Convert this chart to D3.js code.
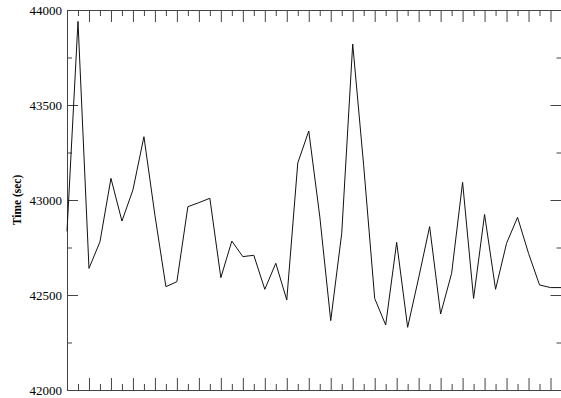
<!DOCTYPE html>
<html>
<head>
<meta charset="utf-8">
<script src="https://cdn.jsdelivr.net/npm/d3@7"></script>
<style>
  body { margin: 0; background: #fff; }
  svg { display: block; }
  .tick text { font-family: "Liberation Serif", "Times New Roman", serif; font-size: 13px; fill: #000; }
</style>
</head>
<body>
<script>
// sample index along x (no labels drawn on the x axis)
const sampleIndex = d3.range(0, 46);

// time in seconds
const timeSec = [
  42835, 43940, 42640, 42780, 43114, 42889, 43053, 43333, 42920, 42544,
  42570, 42965, 42986, 43009, 42591, 42784, 42702, 42709, 42530, 42667,
  42474, 43195, 43363, 42915, 42365, 42825, 43821, 43180, 42482, 42342,
  42777, 42330, 42590, 42860, 42400, 42614, 43093, 42482, 42924, 42530,
  42772, 42909, 42719, 42553, 42539, 42539
];

const yMajorTicks = [42000, 42500, 43000, 43500, 44000];
const yMinorTicks = [42250, 42750, 43250, 43750];
const xMajorTicks = d3.range(0, 46, 2);
const xMinorTicks = d3.range(1, 46, 2);

const W = 561, H = 398;
const margin = { top: 10, right: 0, bottom: 8, left: 67 };
const width = 494.5;
const height = H - margin.top - margin.bottom;

const svg = d3
  .select("body")
  .append("svg")
  .attr("width", W)
  .attr("height", H);

svg.append("rect").attr("width", W).attr("height", H).attr("fill", "white");

const g = svg
  .append("g")
  .attr("transform", `translate(${margin.left},${margin.top})`);

const xScale = d3.scaleLinear().domain([0, 45]).range([0, width]);
const yScale = d3.scaleLinear().domain([42000, 44000]).range([height, 0]);

const axisColor = "#444";

// ticks point inward on all four sides
const styleAxis = (sel) => {
  sel.select(".domain").attr("stroke", axisColor);
  sel.selectAll(".tick line").attr("stroke", axisColor);
};

// left axis, the only one with labels
g.append("g")
  .call(d3.axisLeft(yScale).tickValues(yMajorTicks).tickFormat(d3.format("d")).tickSize(-11).tickPadding(5).tickSizeOuter(0))
  .call(styleAxis);
g.append("g")
  .call(d3.axisLeft(yScale).tickValues(yMinorTicks).tickSize(-5).tickFormat("").tickSizeOuter(0))
  .call(styleAxis);

// right axis
g.append("g")
  .attr("transform", `translate(${width},0)`)
  .call(d3.axisRight(yScale).tickValues(yMajorTicks).tickSize(-11).tickFormat("").tickSizeOuter(0))
  .call(styleAxis);
g.append("g")
  .attr("transform", `translate(${width},0)`)
  .call(d3.axisRight(yScale).tickValues(yMinorTicks).tickSize(-5).tickFormat("").tickSizeOuter(0))
  .call(styleAxis);

// bottom axis
g.append("g")
  .attr("transform", `translate(0,${height})`)
  .call(d3.axisBottom(xScale).tickValues(xMajorTicks).tickSize(-12).tickFormat("").tickSizeOuter(0))
  .call(styleAxis);
g.append("g")
  .attr("transform", `translate(0,${height})`)
  .call(d3.axisBottom(xScale).tickValues(xMinorTicks).tickSize(-6).tickFormat("").tickSizeOuter(0))
  .call(styleAxis);

// top axis
g.append("g")
  .call(d3.axisTop(xScale).tickValues(xMajorTicks).tickSize(-12).tickFormat("").tickSizeOuter(0))
  .call(styleAxis);
g.append("g")
  .call(d3.axisTop(xScale).tickValues(xMinorTicks).tickSize(-6).tickFormat("").tickSizeOuter(0))
  .call(styleAxis);

// y axis title
svg
  .append("text")
  .attr("transform", `translate(21,${margin.top + yScale(43000)}) rotate(-90)`)
  .attr("text-anchor", "middle")
  .attr("font-family", "Liberation Serif, Times New Roman, serif")
  .attr("font-size", "11.5px")
  .attr("font-weight", "bold")
  .text("Time (sec)");

// data line
const line = d3
  .line()
  .x((d, i) => xScale(sampleIndex[i]))
  .y((d) => yScale(d));

g.append("path")
  .datum(timeSec)
  .attr("fill", "none")
  .attr("stroke", "#111")
  .attr("stroke-width", 1)
  .attr("d", line);
</script>
</body>
</html>
